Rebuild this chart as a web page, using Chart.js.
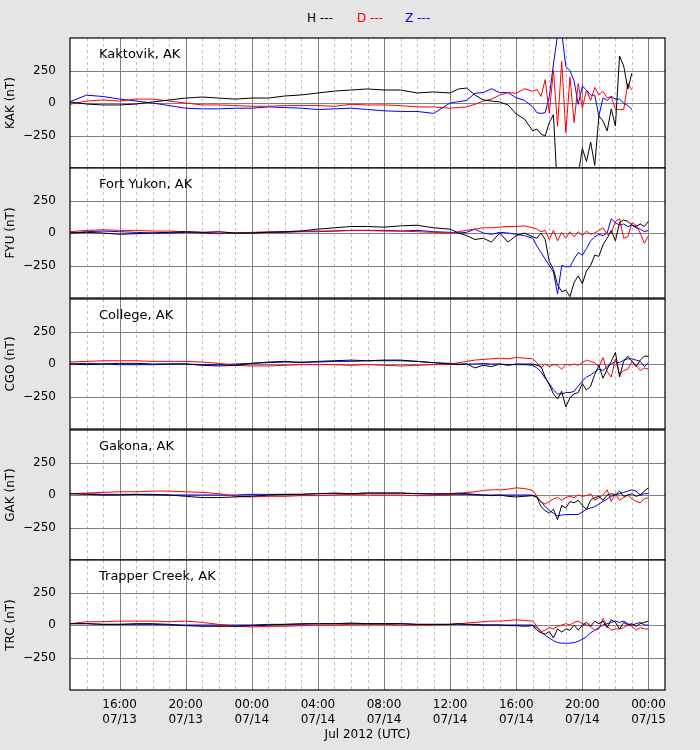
<!DOCTYPE html>
<html><head><meta charset="utf-8">
<script src="https://cdn.jsdelivr.net/npm/chart.js@4"></script>
<style>
body{margin:0;background:#e5e5e5;width:700px;height:750px;position:relative;overflow:hidden;font-family:"DejaVu Sans",sans-serif}
.pan{position:absolute;left:0;width:700px}
#leg{position:absolute;top:11px;left:0;width:700px;font-size:12px}
#leg span{position:absolute}
</style></head><body>
<div id="leg"><span style="left:307px;color:#000">H ---</span><span style="left:357px;color:#f00">D ---</span><span style="left:405px;color:#00f">Z ---</span></div>
<script>
// hours since 13:00 07/13/2012 UTC
const hours = [0,1,2,3,4,5,6,7,8,9,10,11,12,13,14,15,16,17,18,19,20,21,22,23,
 23.5,24,24.5,25,25.5,26,26.5,27,27.5,28,
 28.25,28.5,28.75,29,29.25,29.5,29.75,30,30.25,30.5,30.75,31,31.25,31.5,31.75,32,32.25,32.5,32.75,33,33.25,33.5,33.75,34,34.25,34.5,34.75,35];
const stations = ["Kaktovik, AK","Fort Yukon, AK","College, AK","Gakona, AK","Trapper Creek, AK"];
const codes = ["KAK","FYU","CGO","GAK","TRC"];
const tickTimes = ["16:00","20:00","00:00","04:00","08:00","12:00","16:00","20:00","00:00"];
const tickDates = ["07/13","07/13","07/14","07/14","07/14","07/14","07/14","07/14","07/15"];
const yTicks = [-250,0,250];

const kakH = [8,-8,-15,-15,-8,8,23,38,46,38,30,38,38,54,62,77,92,100,108,100,100,77,85,77,
 108,115,62,23,15,8,-15,-85,-123,-215,
 -200,-239,-254,-150,-90,-700,-800,-700,-650,-600,-550,-350,-450,-300,-480,-100,-139,-215,-46,-177,362,285,108,231,null,null,null,null];
const kakD = [-10,15,23,15,30,30,15,0,-15,-15,-20,-25,-25,-20,-20,-20,-25,-10,-15,-15,-20,-30,-30,-40,
 -35,-30,-10,15,30,60,80,75,110,90,
 105,50,180,-80,250,-180,320,-230,200,-150,150,-40,100,20,120,60,90,40,50,-50,-50,-50,150,100,null,null,null,null];
const kakZ = [10,60,50,30,15,0,-20,-40,-45,-45,-40,-40,-30,-35,-40,-50,-45,-40,-50,-60,-65,-65,-80,0,
 10,20,75,80,110,80,80,40,20,-30,
 -75,-80,-75,50,300,520,550,280,250,170,-10,130,100,60,60,-100,40,20,50,30,30,0,-20,-50,null,null,null,null];

const fyuH = [0,5,0,-10,-5,0,5,10,5,10,0,0,5,10,15,30,40,50,50,45,55,60,40,30,
 0,-20,-50,-40,-70,0,-70,-20,0,-30,
 -40,0,-50,-220,-280,-400,-450,-440,-490,-380,-330,-390,-290,-250,-170,-180,-90,-40,20,-60,80,100,90,60,50,70,50,90];
const fyuD = [10,20,25,20,20,15,15,10,5,0,0,5,10,10,15,15,15,20,20,15,15,10,5,0,
 10,20,30,40,40,45,50,50,55,40,
 30,10,20,-50,20,-60,5,-40,10,-30,10,-20,15,-10,0,20,40,-10,0,90,110,-40,-30,80,60,0,-80,-20];
const fyuZ = [0,10,15,10,5,0,0,5,0,-5,0,0,5,5,10,10,15,20,20,20,15,20,10,5,
 0,5,30,0,-10,5,0,-10,-20,-40,
 -100,-150,-200,-250,-300,-470,-250,-260,-260,-200,-150,-170,-120,-60,-30,-10,-20,0,110,80,60,70,50,60,40,30,10,20];

const cgoH = [0,-5,0,5,5,0,0,0,-10,-15,-10,5,15,20,10,20,25,30,25,30,30,20,10,0,
 -5,0,-30,-10,-20,0,-10,0,0,0,
 -10,-20,-100,-160,-230,-270,-210,-330,-260,-230,-220,-150,-200,-170,-80,-10,-110,-40,20,90,-100,20,60,20,-20,30,60,60];
const cgoD = [15,20,25,25,25,20,20,20,15,5,-10,-15,-15,-10,-5,-5,-5,-10,-5,-10,-15,-10,-5,0,
 10,20,30,35,40,45,40,50,45,40,
 10,-30,0,-20,-5,-10,-40,0,-10,0,-10,10,30,20,10,-20,50,-60,-100,40,-80,-50,-40,20,-10,-50,-30,-40];
const cgoZ = [0,5,0,-5,-5,-5,0,0,-5,-5,0,5,10,15,15,15,20,20,25,25,25,20,10,5,
 0,0,0,5,0,0,-5,-5,-5,-10,
 -30,-60,-110,-150,-200,-230,-230,-220,-220,-210,-170,-130,-100,-85,-60,-40,-50,-20,0,20,10,30,40,40,30,20,-20,10];

const gakH = [10,5,0,0,5,5,0,-10,-20,-20,-15,-10,0,5,5,10,15,10,15,15,15,10,10,10,
 15,10,5,0,-5,0,-10,-15,-10,-5,
 -15,-90,-120,-140,-110,-190,-80,-100,-50,-60,-40,-80,-110,-40,-20,-10,-40,0,10,0,30,-10,0,10,-10,0,30,55];
const gakD = [10,15,20,25,25,30,30,25,20,10,-10,-15,-10,-10,-5,-5,0,5,0,0,0,-5,-5,0,
 10,20,25,35,40,40,45,55,50,35,
 -10,-50,-70,-50,-30,-20,-40,-20,-10,-20,0,-10,-5,10,-40,-20,0,40,-50,10,-40,-20,0,-30,-50,-60,-30,-20];
const gakZ = [10,10,5,5,5,0,0,0,0,0,0,5,5,5,5,10,10,10,15,15,15,10,5,5,
 5,5,0,0,0,0,0,0,0,0,
 -20,-50,-90,-120,-140,-160,-155,-150,-150,-150,-150,-130,-110,-100,-90,-70,-50,-30,-10,0,10,20,30,40,30,0,10,10];

const trcH = [10,10,5,5,10,10,5,-5,-10,-10,-10,-5,0,5,10,10,10,15,10,10,10,5,5,5,
 10,5,5,0,0,0,-5,-5,-10,-5,
 -40,-60,-70,-50,-100,-30,-55,-30,-40,0,-40,0,20,-10,30,10,30,-20,40,20,-30,20,0,10,-10,10,20,30];
const trcD = [10,25,25,30,30,30,25,30,20,5,-10,-15,-10,-10,-5,0,0,5,5,5,0,0,0,5,
 10,15,20,25,30,30,35,40,35,30,
 -10,-50,-40,-20,-30,-10,0,10,0,20,30,10,0,-10,-40,-30,50,-10,-40,-30,-30,-20,0,-10,-40,-20,-30,-30];
const trcZ = [10,10,5,5,5,5,0,0,0,0,0,0,5,5,5,10,10,10,10,10,10,5,5,5,
 5,5,0,0,0,0,0,0,0,0,
 -20,-50,-80,-100,-120,-135,-140,-140,-140,-135,-125,-110,-90,-60,-40,-20,0,10,20,30,20,30,10,0,10,20,0,0];

const panelData = [[kakH,kakD,kakZ],[fyuH,fyuD,fyuZ],[cgoH,cgoD,cgoZ],[gakH,gakD,gakZ],[trcH,trcD,trcZ]];
const colors = ["#000000","#ff0000","#0000ff"];
const tops = [38,168,299,430,560];
const PH = 130, PAD = 2, XH = 56;
const FONT = '"DejaVu Sans", sans-serif';

function mk(i){
  const last = i===4;
  const div = document.createElement('div');
  div.className='pan';
  div.style.top=(tops[i]-PAD)+'px';
  const h = PH + 2*PAD + (last?XH:0);
  div.style.height=h+'px';
  const cv=document.createElement('canvas');
  div.appendChild(cv); document.body.appendChild(div);
  const deco = {
    id:'deco'+i,
    beforeDraw(c){
      const a=c.chartArea, x=c.ctx;
      x.save(); x.fillStyle='#fff'; x.fillRect(a.left,a.top,a.right-a.left,a.bottom-a.top); x.restore();
    },
    beforeDatasetsDraw(c){
      const a=c.chartArea, x=c.ctx, xs=c.scales.x, ys=c.scales.y;
      x.save(); x.lineWidth=1;
      for(let t=1;t<36;t++){
        const px=Math.round(xs.getPixelForValue(t))+0.5;
        if((t-3)%4===0){x.strokeStyle='#808080';x.setLineDash([]);}
        else {x.strokeStyle='#c0c0c0';x.setLineDash([3,3]);}
        x.beginPath();x.moveTo(px,a.top);x.lineTo(px,a.bottom);x.stroke();
      }
      x.setLineDash([]); x.strokeStyle='#808080';
      yTicks.forEach(v=>{const py=Math.round(ys.getPixelForValue(v))+0.5;
        x.beginPath();x.moveTo(a.left,py);x.lineTo(a.right,py);x.stroke();});
      x.restore();
    },
    afterDraw(c){
      const a=c.chartArea, x=c.ctx;
      x.save(); x.strokeStyle='#000'; x.lineWidth=1.2;
      x.strokeRect(a.left,a.top,a.right-a.left,a.bottom-a.top);
      x.fillStyle='#000'; x.font='13px '+FONT; x.textBaseline='middle';
      x.fillText(stations[i], a.left+29, a.top+17);
      x.restore();
    }
  };
  new Chart(cv,{
    type:'line',
    data:{datasets:panelData[i].map((arr,k)=>({
      data:hours.map((t,j)=>({x:t,y:arr[j]})),
      borderColor:colors[k],borderWidth:1,pointRadius:0,tension:0,spanGaps:false
    }))},
    options:{
      responsive:true,maintainAspectRatio:false,animation:false,
      layout:{padding:{top:PAD,right:35,bottom:PAD,left:0}},
      plugins:{legend:{display:false},tooltip:{enabled:false}},
      scales:{
        x:{type:'linear',min:0,max:36,
          grid:{display:false},border:{display:false},
          afterBuildTicks(s){s.ticks=tickTimes.map((_,k)=>({value:3+4*k}));},
          afterFit(s){ s.height = last ? XH : 0; s.paddingLeft=0; s.paddingRight=0; },
          ticks:{display:last,autoSkip:false,maxRotation:0,color:'#000',font:{family:FONT,size:12},padding:0,
            callback(v){const k=(v-3)/4; return [tickTimes[k],tickDates[k]];}},
          title:{display:last,text:'Jul 2012 (UTC)',color:'#000',font:{family:FONT,size:12},padding:{top:0}}
        },
        y:{min:-500,max:500,
          grid:{display:false},border:{display:false},
          afterBuildTicks(s){s.ticks=yTicks.map(v=>({value:v}));},
          afterFit(s){s.width=70; s.paddingTop=0; s.paddingBottom=0;},
          ticks:{color:'#000',font:{family:FONT,size:12},padding:6,
            callback(v){return v<0?'\u2212'+Math.abs(v):String(v);}},
          title:{display:true,text:codes[i]+' (nT)',color:'#000',font:{family:FONT,size:12},padding:{bottom:2}}
        }
      }
    },
    plugins:[deco]
  });
}
for(let i=0;i<5;i++) mk(i);
</script>
</body></html>
